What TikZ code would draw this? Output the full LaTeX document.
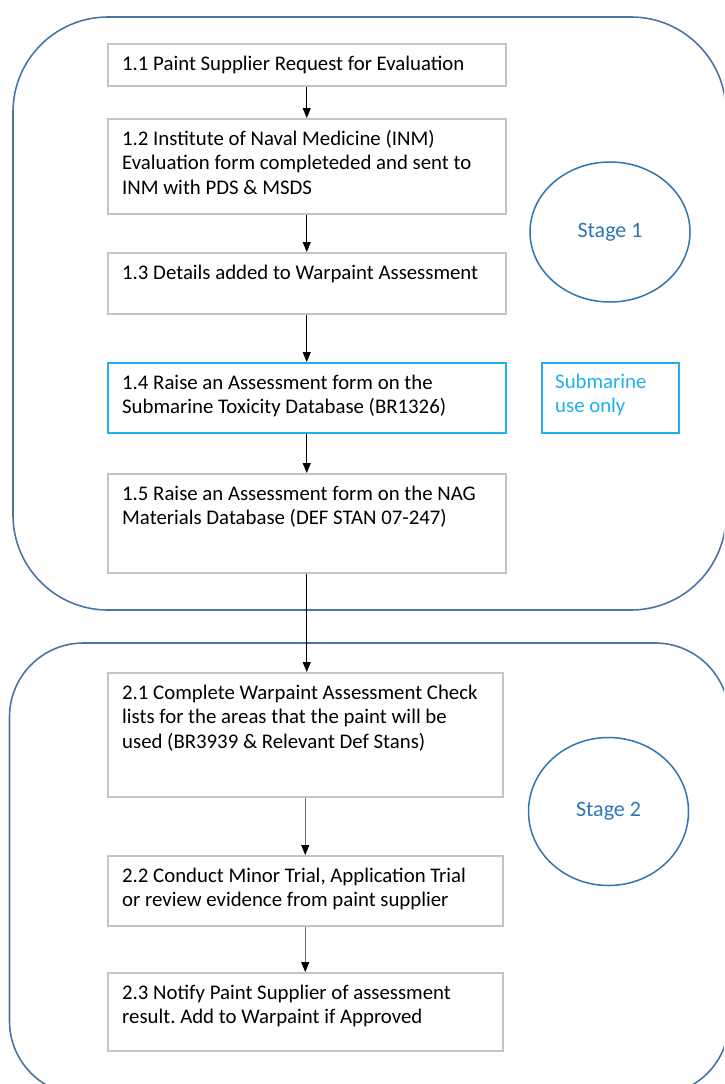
\documentclass[tikz,border=0pt]{standalone}
\usepackage{fontspec}
\setmainfont{Carlito}
\usetikzlibrary{arrows.meta,shapes.geometric,calc}
\definecolor{framec}{HTML}{4A75A2}
\definecolor{stagec}{HTML}{2E75B6}
\definecolor{cyanc}{HTML}{1EB1EE}
\definecolor{boxgray}{HTML}{C4C4C4}
\definecolor{arrgray}{HTML}{707070}
\frenchspacing
\newcommand{\tp}[1]{\parbox[t]{390pt}{\raggedright\frenchspacing #1}}
\begin{document}
\begin{tikzpicture}[x=1pt,y=-1pt,
  txt/.style={font=\fontsize{20.8}{24.6}\selectfont, inner sep=0pt, anchor=base west},
  stepbox/.style={draw=boxgray, line width=1.5pt, anchor=north west, inner sep=0pt},
  cyanbox/.style={draw=cyanc, line width=1.5pt, anchor=north west, inner sep=0pt},
  frame/.style={draw=framec, line width=1.6pt},
  stage/.style={ellipse, draw=stagec, line width=1.5pt, inner sep=0pt, text=stagec, font=\fontsize{22}{26}\selectfont},
  arr/.style={line width=1.1pt, -{Triangle[length=10pt,width=8pt,color=black]}},
  arr2/.style={arr, draw=arrgray},
]
\clip (0,0) rectangle (724,1084);
% frames
\draw[frame, rounded corners=95pt] (13,17) rectangle (726,610);
\draw[frame, rounded corners=74pt] (9.5,643) rectangle (729,1095);

% stage 1 boxes
\node[stepbox, minimum width=398pt, minimum height=42pt] (b11) at (107,43) {};
\node[txt] (t11) at (122,70) {\tp{1.1 Paint Supplier Request for Evaluation}};
\node[stepbox, minimum width=398pt, minimum height=95pt] (b12) at (107,118) {};
\node[txt] (t12) at (122,145) {\tp{1.2 Institute of Naval Medicine (INM)\\Evaluation form completeded and sent to\\INM with PDS \& MSDS}};
\node[stepbox, minimum width=398pt, minimum height=61pt] (b13) at (107,252) {};
\node[txt] (t13) at (122,279) {\tp{1.3 Details added to Warpaint Assessment}};
\node[cyanbox, minimum width=398pt, minimum height=70pt] (b14) at (107,362) {};
\node[txt] (t14) at (122,389) {\tp{1.4 Raise an Assessment form on the\\Submarine Toxicity Database (BR1326)}};
\node[stepbox, minimum width=398pt, minimum height=99pt] (b15) at (107,473) {};
\node[txt] (t15) at (122,500) {\tp{1.5 Raise an Assessment form on the NAG\\Materials Database (DEF STAN 07-247)}};
\node[cyanbox, minimum width=137pt, minimum height=70pt] (sub) at (541,362) {};
\node[txt, text=cyanc] (tsub) at (555,388) {\tp{Submarine\\use only}};
\node[stage, minimum width=160pt, minimum height=140pt] (s1) at (610,232) {Stage 1};

% stage 2 boxes
\node[stepbox, minimum width=395pt, minimum height=124pt] (b21) at (107,672) {};
\node[txt] (t21) at (122,699) {\tp{2.1 Complete Warpaint Assessment Check\\lists for the areas that the paint will be\\used (BR3939 \& Relevant Def Stans)}};
\node[stepbox, minimum width=395pt, minimum height=70pt] (b22) at (107,855) {};
\node[txt] (t22) at (122,882) {\tp{2.2 Conduct Minor Trial, Application Trial\\or review evidence from paint supplier}};
\node[stepbox, minimum width=395pt, minimum height=78pt] (b23) at (107,972) {};
\node[txt] (t23) at (122,999) {\tp{2.3 Notify Paint Supplier of assessment\\result. Add to Warpaint if Approved}};
\node[stage, minimum width=160pt, minimum height=148pt] (s2) at (608.5,811.5) {Stage 2};

% arrows
\draw[arr] (b11.south) -- (b12.north);
\draw[arr] (b12.south) -- (b13.north);
\draw[arr] (b13.south) -- (b14.north);
\draw[arr] (b14.south) -- (b15.north);
\draw[arr] (b15.south) -- (b15.south |- b21.north);
\draw[arr2] (b21.south) -- (b22.north);
\draw[arr2] (b22.south) -- (b23.north);
\end{tikzpicture}
\end{document}
